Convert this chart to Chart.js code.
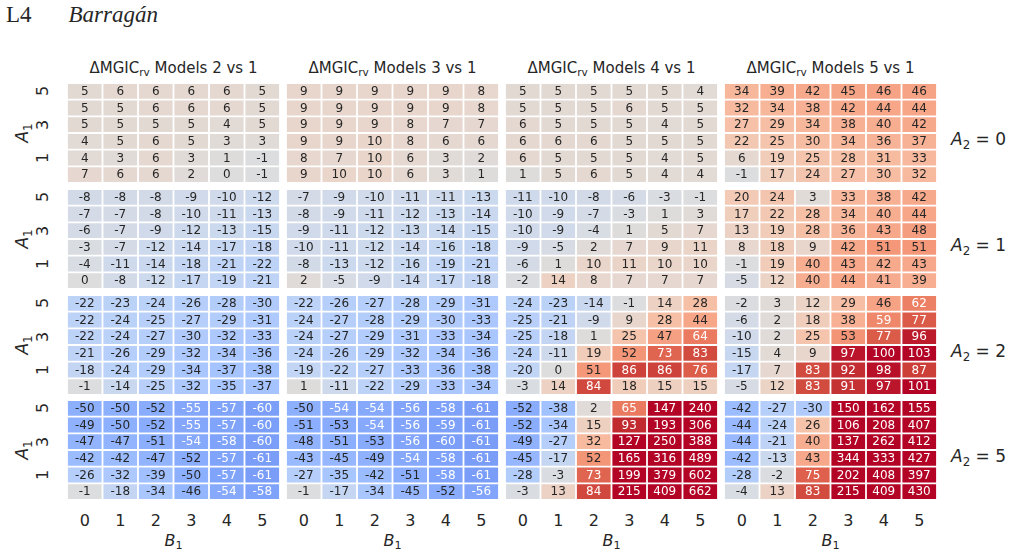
<!DOCTYPE html>
<html>
<head>
<meta charset="utf-8">
<script src="https://cdn.jsdelivr.net/npm/chart.js@4.4.0/dist/chart.umd.min.js"></script>
<style>
    body { margin: 0; background: #fff; }
    #page { position: relative; width: 1013px; height: 557px; overflow: hidden;
            font-family: "DejaVu Sans", sans-serif; color: #262626; }
    #page canvas { position: absolute; }
    .lbl { position: absolute; white-space: nowrap; line-height: 1; transform: translate(-50%, -50%); }
    .rot { transform: translate(-50%, -50%) rotate(-90deg); }
    .sub { font-size: 0.7em; position: relative; top: 0.3em; line-height: 0; }
    .m { font-style: italic; }
    .m .sub { font-style: normal; }
    #head { position: absolute; left: 6px; top: 2px; font-family: "Liberation Serif", serif; font-size: 23px; }
</style>
</head>
<body>
<div id="page">
    <div id="head">L4<span style="margin-left:37px;font-style:italic">Barragán</span></div>
</div>
<script>
// Axis values
const b1Labels = ['0', '1', '2', '3', '4', '5'];
const a1Rows = [5, 4, 3, 2, 1, 0];      // top to bottom
const a1Ticks = ['5', '3', '1'];
const a2Values = [0, 1, 2, 5];
const modelTitles = ['2 vs 1', '3 vs 1', '4 vs 1', '5 vs 1'];

// Model 2 vs 1 (rows A1 = 5..0, columns B1 = 0..5)
const m2_a2_0 = [[5,6,6,6,6,5],[5,5,6,6,6,5],[5,5,5,5,4,5],[4,5,6,5,3,3],[4,3,6,3,1,-1],[7,6,6,2,0,-1]];
const m2_a2_1 = [[-8,-8,-8,-9,-10,-12],[-7,-7,-8,-10,-11,-13],[-6,-7,-9,-12,-13,-15],[-3,-7,-12,-14,-17,-18],[-4,-11,-14,-18,-21,-22],[0,-8,-12,-17,-19,-21]];
const m2_a2_2 = [[-22,-23,-24,-26,-28,-30],[-22,-24,-25,-27,-29,-31],[-22,-24,-27,-30,-32,-33],[-21,-26,-29,-32,-34,-36],[-18,-24,-29,-34,-37,-38],[-1,-14,-25,-32,-35,-37]];
const m2_a2_5 = [[-50,-50,-52,-55,-57,-60],[-49,-50,-52,-55,-57,-60],[-47,-47,-51,-54,-58,-60],[-42,-42,-47,-52,-57,-61],[-26,-32,-39,-50,-57,-61],[-1,-18,-34,-46,-54,-58]];

// Model 3 vs 1
const m3_a2_0 = [[9,9,9,9,9,8],[9,9,9,9,9,8],[9,9,9,8,7,7],[9,9,10,8,6,6],[8,7,10,6,3,2],[9,10,10,6,3,1]];
const m3_a2_1 = [[-7,-9,-10,-11,-11,-13],[-8,-9,-11,-12,-13,-14],[-9,-11,-12,-13,-14,-15],[-10,-11,-12,-14,-16,-18],[-8,-13,-12,-16,-19,-21],[2,-5,-9,-14,-17,-18]];
const m3_a2_2 = [[-22,-26,-27,-28,-29,-31],[-24,-27,-28,-29,-30,-33],[-24,-27,-29,-31,-33,-34],[-24,-26,-29,-32,-34,-36],[-19,-22,-27,-33,-36,-38],[1,-11,-22,-29,-33,-34]];
const m3_a2_5 = [[-50,-54,-54,-56,-58,-61],[-51,-53,-54,-56,-59,-61],[-48,-51,-53,-56,-60,-61],[-43,-45,-49,-54,-58,-61],[-27,-35,-42,-51,-58,-61],[-1,-17,-34,-45,-52,-56]];

// Model 4 vs 1
const m4_a2_0 = [[5,5,5,5,5,4],[5,5,5,6,5,5],[6,5,5,5,4,5],[6,6,6,5,5,5],[6,5,5,5,4,5],[1,5,6,5,4,4]];
const m4_a2_1 = [[-11,-10,-8,-6,-3,-1],[-10,-9,-7,-3,1,3],[-10,-9,-4,1,5,7],[-9,-5,2,7,9,11],[-6,1,10,11,10,10],[-2,14,8,7,7,7]];
const m4_a2_2 = [[-24,-23,-14,-1,14,28],[-25,-21,-9,9,28,44],[-25,-18,1,25,47,64],[-24,-11,19,52,73,83],[-20,0,51,86,86,76],[-3,14,84,18,15,15]];
const m4_a2_5 = [[-52,-38,2,65,147,240],[-52,-34,15,93,193,306],[-49,-27,32,127,250,388],[-45,-17,52,165,316,489],[-28,-3,73,199,379,602],[-3,13,84,215,409,662]];

// Model 5 vs 1
const m5_a2_0 = [[34,39,42,45,46,46],[32,34,38,42,44,44],[27,29,34,38,40,42],[22,25,30,34,36,37],[6,19,25,28,31,33],[-1,17,24,27,30,32]];
const m5_a2_1 = [[20,24,3,33,38,42],[17,22,28,34,40,44],[13,19,28,36,43,48],[8,18,9,42,51,51],[-1,19,40,43,42,43],[-5,12,40,44,41,39]];
const m5_a2_2 = [[-2,3,12,29,46,62],[-6,2,18,38,59,77],[-10,2,25,53,77,96],[-15,4,9,97,100,103],[-17,7,83,92,98,87],[-5,12,83,91,97,101]];
const m5_a2_5 = [[-42,-27,-30,150,162,155],[-44,-24,26,106,208,407],[-44,-21,40,137,262,412],[-42,-13,43,344,333,427],[-28,-2,75,202,408,397],[-4,13,83,215,409,430]];

const panels = [
    [m2_a2_0, m3_a2_0, m4_a2_0, m5_a2_0],
    [m2_a2_1, m3_a2_1, m4_a2_1, m5_a2_1],
    [m2_a2_2, m3_a2_2, m4_a2_2, m5_a2_2],
    [m2_a2_5, m3_a2_5, m4_a2_5, m5_a2_5]
];

// Layout
const colLeft = [67, 286, 505, 724];
const colWidth = 213;
const rowTop = [83, 189, 295, 400];
const rowHeight = 100;
const VMIN = -100, VMAX = 100;

// coolwarm colormap
const coolwarm = [
    [59,76,192],[68,90,204],[77,104,215],[87,117,225],[98,130,234],[108,142,241],[119,154,247],
    [130,165,251],[141,176,254],[152,185,255],[163,194,255],[174,201,253],[184,208,249],[194,213,244],
    [204,217,238],[213,219,230],[221,221,221],[229,216,209],[236,211,197],[241,204,184],[245,196,172],
    [247,187,160],[247,177,148],[247,166,137],[244,154,123],[241,141,112],[236,127,99],[229,112,88],
    [222,96,77],[213,80,66],[203,62,56],[192,40,47],[180,4,38]
];

function cellRGB(v) {
    let t = (v - VMIN) / (VMAX - VMIN);
    t = Math.max(0, Math.min(1, t));
    const p = t * (coolwarm.length - 1);
    const i = Math.min(Math.floor(p), coolwarm.length - 2);
    const f = p - i;
    return coolwarm[i].map((c, k) => c + (coolwarm[i + 1][k] - c) * f);
}

function rgbString(rgb) {
    return `rgb(${rgb.map(c => Math.round(c)).join(',')})`;
}

// seaborn style: white text on dark cells
function textColor(rgb) {
    const lin = rgb.map(c => {
        c = c / 255;
        return c <= 0.03928 ? c / 12.92 : Math.pow((c + 0.055) / 1.055, 2.4);
    });
    const lum = 0.2126 * lin[0] + 0.7152 * lin[1] + 0.0722 * lin[2];
    return lum > 0.408 ? '#262626' : '#ffffff';
}

const annotate = {
    id: 'annotate',
    afterDatasetsDraw(chart) {
        const ctx = chart.ctx;
        ctx.save();
        ctx.font = '12px "DejaVu Sans"';
        ctx.textAlign = 'center';
        ctx.textBaseline = 'middle';
        chart.data.datasets.forEach((ds, i) => {
            chart.getDatasetMeta(i).data.forEach((el, j) => {
                const v = ds.values[j];
                ctx.fillStyle = textColor(cellRGB(v));
                ctx.fillText(String(v), el.x, (el.y + el.base) / 2 + 0.5);
            });
        });
        ctx.restore();
    }
};

const page = document.getElementById('page');

function addLabel(html, x, y, cls, size) {
    const d = document.createElement('div');
    d.className = 'lbl ' + (cls || '');
    d.style.left = x + 'px';
    d.style.top = y + 'px';
    d.style.fontSize = size + 'px';
    d.innerHTML = html;
    page.appendChild(d);
}

function makePanel(matrix, left, top) {
    const canvas = document.createElement('canvas');
    canvas.width = colWidth;
    canvas.height = rowHeight;
    canvas.style.left = left + 'px';
    canvas.style.top = top + 'px';
    page.appendChild(canvas);

    const datasets = matrix.map((row, r) => {
        const a1 = a1Rows[r];
        const colors = row.map(v => rgbString(cellRGB(v)));
        return {
            data: row.map(() => [a1, a1 + 1]),
            values: row,
            backgroundColor: colors,
            borderColor: '#ffffff',
            borderWidth: 0.9,
            borderSkipped: false,
            inflateAmount: 0,
            grouped: false,
            barPercentage: 1,
            categoryPercentage: 1
        };
    });

    new Chart(canvas, {
        type: 'bar',
        data: { labels: b1Labels, datasets: datasets },
        options: {
            responsive: false,
            animation: false,
            events: [],
            layout: { padding: 0 },
            scales: {
                x: { type: 'category', display: false },
                y: { type: 'linear', min: 0, max: 6, display: false }
            },
            plugins: { legend: { display: false }, tooltip: { enabled: false } }
        },
        plugins: [annotate]
    });
}

panels.forEach((rowPanels, r) => {
    rowPanels.forEach((matrix, c) => makePanel(matrix, colLeft[c], rowTop[r]));
});

// Titles
modelTitles.forEach((t, c) => {
    addLabel(`ΔMGIC<span class="sub">rv</span> Models ${t}`, colLeft[c] + colWidth / 2, 68, '', 15);
});

// x ticks and B1 labels
const cellW = colWidth / 6;
colLeft.forEach(left => {
    b1Labels.forEach((lab, i) => addLabel(lab, left + cellW * (i + 0.5), 521, '', 16));
    addLabel('<span class="m">B<span class="sub">1</span></span>', left + colWidth / 2, 541, '', 16);
});

// y ticks, A1 labels and A2 labels
const cellH = rowHeight / 6;
rowTop.forEach((top, r) => {
    a1Ticks.forEach(lab => {
        const idx = a1Rows.indexOf(Number(lab));
        addLabel(lab, 43, top + cellH * (idx + 0.5), 'rot', 16);
    });
    addLabel('<span class="m">A<span class="sub">1</span></span>', 22, top + rowHeight / 2, 'rot', 17);
    const d = document.createElement('div');
    d.className = 'lbl';
    d.style.transform = 'translate(0, -50%)';
    d.style.left = '951px';
    d.style.top = (top + rowHeight / 2 + 6) + 'px';
    d.style.fontSize = '17px';
    d.innerHTML = `<span class="m">A<span class="sub">2</span></span> = ${a2Values[r]}`;
    page.appendChild(d);
});
</script>
</body>
</html>
